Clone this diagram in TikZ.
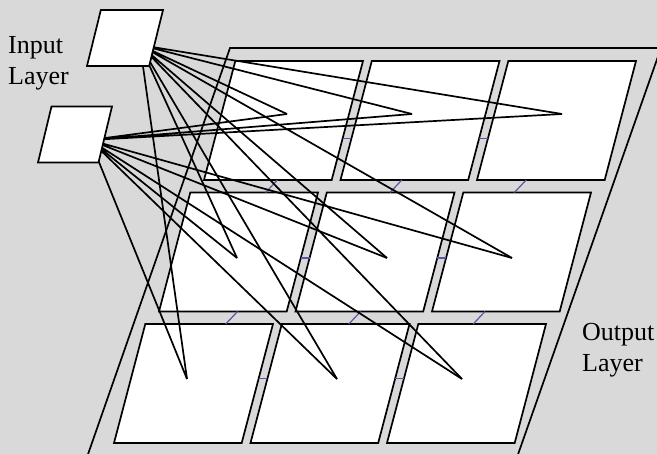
\documentclass[tikz,border=0pt]{standalone}
\usepackage{fontspec}
\setmainfont{Liberation Serif}
\usetikzlibrary{shapes.geometric,calc}
\definecolor{bggray}{RGB}{217,217,217}
\definecolor{linkblue}{RGB}{88,88,160}

\begin{document}
\begin{tikzpicture}[
  x=1pt, y=-1pt,
  cell/.style={draw, fill=white, line width=1.7pt, trapezium, trapezium left angle=72, trapezium right angle=108,
    trapezium stretches=true, minimum width=159pt, minimum height=119pt, inner sep=1pt, outer sep=0pt},
  inbox/.style={cell, trapezium left angle=74, trapezium right angle=106, minimum height=56pt},
  wire/.style={line width=1.7pt},
  link/.style={draw=linkblue, line width=1.2pt},
  lbl/.style={font=\fontsize{26}{31}\selectfont, align=left, inner sep=0pt, anchor=north west},
]
\useasboundingbox (0,0) rectangle (657,454);
\fill[bggray] (0,0) rectangle (657,454);
\clip (0,0) rectangle (657,454);

% output layer frame
\draw[line width=1.7pt] (230,48) -- (661,48) -- (509,480) -- (79,480) -- cycle;

\node[cell] (c11) at (283.5,120.5) {};
\node[cell] (c12) at (420,120.5) {};
\node[cell] (c13) at (556.5,120.5) {};
\node[cell] (c21) at (238.5,252) {};
\node[cell] (c22) at (375,252) {};
\node[cell] (c23) at (511.5,252) {};
\node[cell] (c31) at (193.5,383.5) {};
\node[cell] (c32) at (330,383.5) {};
\node[cell] (c33) at (466.5,383.5) {};

% lateral links between neighbours
\draw[link] ($(c11.top right corner)!0.65!(c11.bottom right corner)$) -- ($(c12.top left corner)!0.65!(c12.bottom left corner)$);
\draw[link] ($(c12.top right corner)!0.65!(c12.bottom right corner)$) -- ($(c13.top left corner)!0.65!(c13.bottom left corner)$);
\draw[link] ($(c21.top right corner)!0.55!(c21.bottom right corner)$) -- ($(c22.top left corner)!0.55!(c22.bottom left corner)$);
\draw[link] ($(c22.top right corner)!0.55!(c22.bottom right corner)$) -- ($(c23.top left corner)!0.55!(c23.bottom left corner)$);
\draw[link] ($(c31.top right corner)!0.46!(c31.bottom right corner)$) -- ($(c32.top left corner)!0.46!(c32.bottom left corner)$);
\draw[link] ($(c32.top right corner)!0.46!(c32.bottom right corner)$) -- ($(c33.top left corner)!0.46!(c33.bottom left corner)$);
\draw[link] ($(c11.bottom left corner)!0.575!(c11.bottom right corner)$) -- ($(c21.top left corner)!0.59!(c21.top right corner)$);
\draw[link] ($(c12.bottom left corner)!0.48!(c12.bottom right corner)$) -- ($(c22.top left corner)!0.495!(c22.top right corner)$);
\draw[link] ($(c13.bottom left corner)!0.385!(c13.bottom right corner)$) -- ($(c23.top left corner)!0.4!(c23.top right corner)$);
\draw[link] ($(c21.bottom left corner)!0.615!(c21.bottom right corner)$) -- ($(c31.top left corner)!0.63!(c31.top right corner)$);
\draw[link] ($(c22.bottom left corner)!0.51!(c22.bottom right corner)$) -- ($(c32.top left corner)!0.525!(c32.top right corner)$);
\draw[link] ($(c23.bottom left corner)!0.415!(c23.bottom right corner)$) -- ($(c33.top left corner)!0.43!(c33.top right corner)$);

% weights
\coordinate (src1) at (140,45);
\coordinate (src2) at (90,140);
\coordinate (t11) at (287,114);
\coordinate (t12) at (412,114);
\coordinate (t13) at (562,114);
\coordinate (t21) at (237,258);
\coordinate (t22) at (387,258);
\coordinate (t23) at (512,258);
\coordinate (t31) at (187,379);
\coordinate (t32) at (337,379);
\coordinate (t33) at (462,379);
\draw[wire] (src1) -- (t11) (src1) -- (t12) (src1) -- (t13)
  (src1) -- (t21) (src1) -- (t22) (src1) -- (t23)
  (src1) -- (t31) (src1) -- (t32) (src1) -- (t33);
\draw[wire] (src2) -- (t11) (src2) -- (t12) (src2) -- (t13)
  (src2) -- (t21) (src2) -- (t22) (src2) -- (t23)
  (src2) -- (t31) (src2) -- (t32) (src2) -- (t33);

\node[inbox, minimum width=76pt] (in1) at (125,38) {};
\node[inbox, minimum width=74pt] (in2) at (75,134.5) {};

\node[lbl] (inlbl) at (8,35.8) {Input\\Layer};
\node[lbl] (outlbl) at (582,323.4) {Output\\Layer};
\end{tikzpicture}
\end{document}
